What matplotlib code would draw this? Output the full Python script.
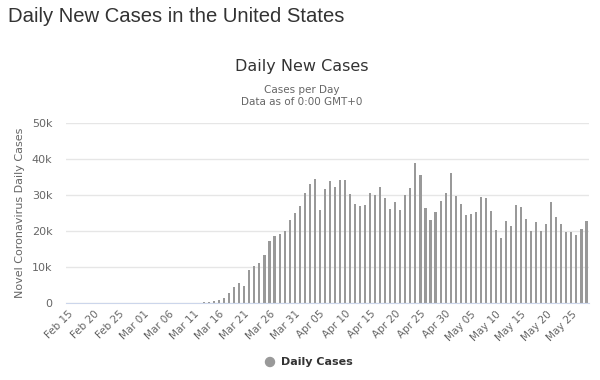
import numpy as np
import pandas as pd
import matplotlib
matplotlib.use("Agg")
import matplotlib.pyplot as plt
from matplotlib.ticker import FuncFormatter, MultipleLocator

# daily new cases, Feb 15 .. May 28
early = [0, 0, 0, 0, 0, 0, 1, 0, 0, 0, 0, 0, 2, 1, 7,
         6, 4, 5, 8, 10, 12, 14, 16, 20, 22, 25, 30]   # Feb 15 .. Mar 12, too small to see
cases = early + [
    300, 500, 700, 800, 1500, 2800, 4500, 5500, 4800, 9300,
    10200, 11100, 13400, 17300, 18600, 19300, 20100, 23100, 25100, 26900,
    30500, 32900, 34400, 25700, 31500, 33700, 32300, 34000, 34000, 30200,
    27600, 26900, 27100, 30500, 30000, 32300, 29000, 26000, 28100, 25900,
    29900, 31900, 38900, 35400, 26400, 23100, 25300, 28300, 30600, 35900,
    29700, 27400, 24500, 24800, 25300, 29500, 29000, 25600, 20400, 18100,
    22700, 21500, 27100, 26700, 23400, 19900, 22400, 20100, 22000, 28100,
    23900, 21800, 19600, 19600, 19000, 20600, 22700]
dates = pd.date_range("2020-02-15", periods=len(cases), freq="D")
labels = [d.strftime("%b %d") for d in dates]

title = "Daily New Cases in the United States"
chart_title = "Daily New Cases"
subtitle = ["Cases per Day", "Data as of 0:00 GMT+0"]
y_label = "Novel Coronavirus Daily Cases"
series_name = "Daily Cases"

grey = "#999999"
txt = "#666666"

fig = plt.figure(figsize=(6, 3.8), dpi=100)
ax = fig.add_axes([0.1095, 0.2018, 0.8722, 0.4758])

x = np.arange(len(cases))
ax.bar(x, cases, width=0.42, color=grey, linewidth=0, zorder=3)

ax.set_xlim(-0.5, len(cases) - 0.5)
ax.set_ylim(0, 50000)
ax.yaxis.set_major_locator(MultipleLocator(10000))
ax.yaxis.set_major_formatter(FuncFormatter(lambda v, p: "0" if v == 0 else f"{int(v/1000)}k"))
ax.grid(axis="y", color="#e6e6e6", linewidth=1, zorder=0)
for s in ["top", "right", "left"]:
    ax.spines[s].set_visible(False)
ax.spines["bottom"].set_color("#ccd6eb")
ax.spines["bottom"].set_zorder(4)
ax.tick_params(axis="y", length=0, labelsize=8, labelcolor=txt, pad=9.5)

ticks = x[::5]
ax.set_xticks(ticks)
ax.set_xticklabels([labels[i] for i in ticks], rotation=45, ha="right",
                   rotation_mode="anchor", fontsize=7.5, color=txt)
ax.tick_params(axis="x", length=0, pad=4)

ax.set_ylabel(y_label, fontsize=8, color=txt)
ax.yaxis.set_label_coords(-0.077, 0.5)

fig.text(8 / 600, 1 - 16 / 380, title, fontsize=14.6, color="#333333",
         family="Liberation Sans", va="center", ha="left")
fig.text(302 / 600, 1 - 66 / 380, chart_title, fontsize=11.5, color="#333333",
         va="center", ha="center")
fig.text(302 / 600, 1 - 90 / 380, subtitle[0], fontsize=7.5, color=txt,
         va="center", ha="center")
fig.text(302 / 600, 1 - 102 / 380, subtitle[1], fontsize=7.5, color=txt,
         va="center", ha="center")

# legend
fig.patches.append(matplotlib.patches.Ellipse((270 / 600, 1 - 362 / 380), 9 / 600, 9 / 380,
                                              transform=fig.transFigure, color=grey))
fig.text(281 / 600, 1 - 362 / 380, series_name, fontsize=8, color="#333333",
         fontweight="bold", va="center", ha="left")

fig.savefig("out.png", dpi=100)
